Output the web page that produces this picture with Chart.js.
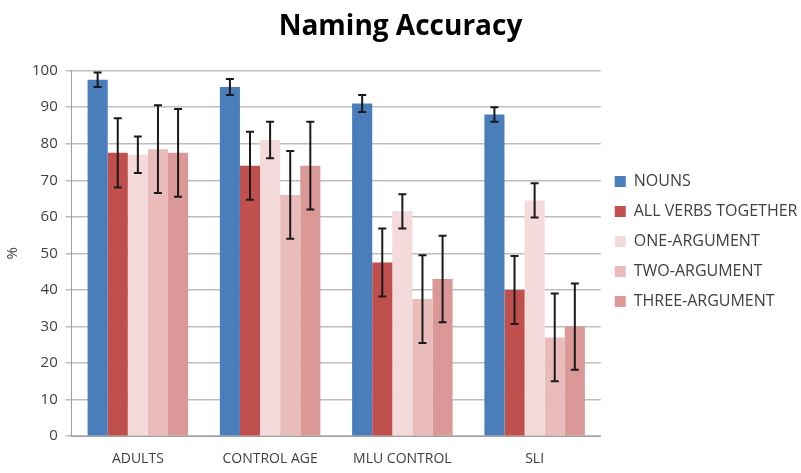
<!DOCTYPE html>
<html>
<head>
<meta charset="utf-8">
<script src="https://cdn.jsdelivr.net/npm/chart.js@4"></script>
<style>
  html, body { margin: 0; padding: 0; background: #fff; }
  #wrap { width: 801px; height: 473px; }
</style>
</head>
<body>
<div id="wrap"><canvas id="chart"></canvas></div>
<script>
const groups = ['ADULTS', 'CONTROL AGE', 'MLU CONTROL', 'SLI'];
const seriesNames = ['NOUNS', 'ALL VERBS TOGETHER', 'ONE-ARGUMENT', 'TWO-ARGUMENT', 'THREE-ARGUMENT'];

const nouns = [97.5, 95.5, 91, 88];
const allVerbs = [77.5, 74, 47.5, 40];
const oneArg = [77, 81, 61.5, 64.5];
const twoArg = [78.5, 66, 37.5, 27];
const threeArg = [77.5, 74, 43, 30];

const nounsErr = [2, 2.2, 2.3, 2];
const allVerbsErr = [9.5, 9.3, 9.3, 9.3];
const oneArgErr = [5, 5, 4.7, 4.7];
const twoArgErr = [12, 12, 12, 12];
const threeArgErr = [12, 12, 11.8, 11.8];

const yTicks = [0, 10, 20, 30, 40, 50, 60, 70, 80, 90, 100];

const colors = ['#4a7ebb', '#c0504d', '#f4dada', '#e9bbba', '#da9896'];
const allValues = [nouns, allVerbs, oneArg, twoArg, threeArg];
const allErrors = [nounsErr, allVerbsErr, oneArgErr, twoArgErr, threeArgErr];

const FONT = '"Open Sans", Lato, sans-serif';

// draws the black error bars on top of each bar
const errorBars = {
    id: 'errorBars',
    afterDatasetsDraw(chart) {
        const ctx = chart.ctx;
        const y = chart.scales.y;
        ctx.save();
        ctx.strokeStyle = '#1a1a1a';
        ctx.lineWidth = 2;
        chart.data.datasets.forEach((ds, di) => {
            const meta = chart.getDatasetMeta(di);
            meta.data.forEach((bar, i) => {
                const v = ds.data[i];
                const e = ds.errors[i];
                const top = y.getPixelForValue(v + e);
                const bot = y.getPixelForValue(v - e);
                const cap = 4;
                ctx.beginPath();
                ctx.moveTo(bar.x, top);
                ctx.lineTo(bar.x, bot);
                ctx.moveTo(bar.x - cap, top);
                ctx.lineTo(bar.x + cap, top);
                ctx.moveTo(bar.x - cap, bot);
                ctx.lineTo(bar.x + cap, bot);
                ctx.stroke();
            });
        });
        ctx.restore();
    }
};

new Chart(document.getElementById('chart'), {
    type: 'bar',
    data: {
        labels: groups,
        datasets: seriesNames.map((name, i) => ({
            label: name,
            data: allValues[i],
            errors: allErrors[i],
            backgroundColor: colors[i],
            borderWidth: 0,
            barPercentage: 1,
            categoryPercentage: 0.76
        }))
    },
    options: {
        responsive: true,
        maintainAspectRatio: false,
        animation: false,
        layout: { padding: { left: 0, right: 0, top: 10, bottom: 0 } },
        plugins: {
            title: {
                display: true,
                text: 'Naming Accuracy',
                color: '#000',
                font: { family: FONT, size: 28, weight: 'bold' },
                padding: { top: 0, bottom: 27 }
            },
            legend: {
                position: 'right',
                align: 'center',
                labels: {
                    color: '#404040',
                    font: { family: FONT, size: 16 },
                    boxWidth: 11,
                    boxHeight: 11,
                    padding: 14
                }
            },
            tooltip: { enabled: false }
        },
        scales: {
            x: {
                grid: { display: false, drawTicks: true },
                border: { color: '#a0a0a0' },
                ticks: { color: '#404040', font: { family: FONT, size: 14 }, padding: 6 }
            },
            y: {
                min: 0,
                max: 100,
                afterBuildTicks(axis) { axis.ticks = yTicks.map(v => ({ value: v })); },
                grid: { color: '#bdbdbd', lineWidth: 1.5, tickLength: 6 },
                border: { color: '#a0a0a0' },
                ticks: { color: '#404040', font: { family: FONT, size: 15 }, padding: 8 },
                title: {
                    display: true, text: '%', color: '#404040',
                    font: { family: FONT, size: 15 }, padding: { top: 4, bottom: 2 }
                }
            }
        }
    },
    plugins: [errorBars]
});
</script>
</body>
</html>
